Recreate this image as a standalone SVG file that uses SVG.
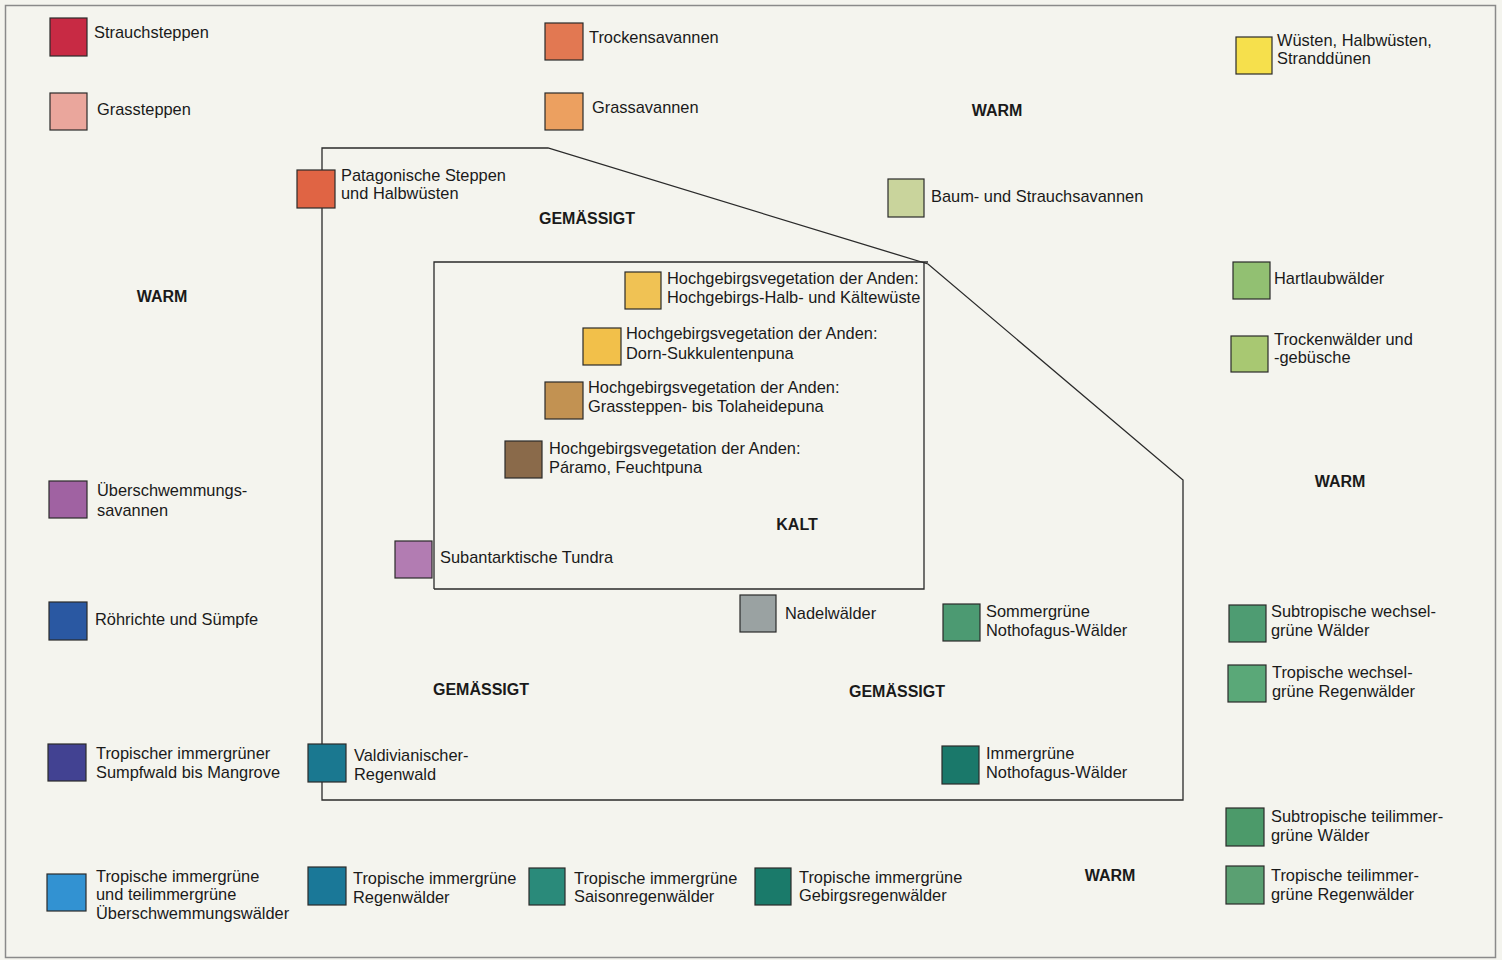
<svg xmlns="http://www.w3.org/2000/svg" width="1502" height="960" viewBox="0 0 1502 960">
<style>
.t{font-family:"Liberation Sans",Arial,sans-serif;font-size:16.4px;fill:#1a1a1a}
.b{font-family:"Liberation Sans",Arial,sans-serif;font-size:16px;font-weight:bold;fill:#1a1a1a;text-anchor:middle}
.sq{stroke:#2a2a2a;stroke-width:1.2}
.ln{fill:none;stroke:#2a2a2a;stroke-width:1.3}
</style>
<rect x="0" y="0" width="1502" height="960" fill="#f4f4ee"/>
<rect x="5.5" y="5.5" width="1490" height="952" fill="none" stroke="#8a8a8a" stroke-width="1.5"/>
<g id="boundaries">
<polygon class="ln" points="322,148 548,148 928,264 1183,480 1183,800 322,800"/>
<polyline class="ln" points="434,589 434,262 928,262"/>
<polyline class="ln" points="924,262 924,589 434,589"/>
</g>
<g id="zone-labels">
<text class="b" x="997" y="116">WARM</text>
<text class="b" x="587" y="224">GEMÄSSIGT</text>
<text class="b" x="162" y="302">WARM</text>
<text class="b" x="797" y="530">KALT</text>
<text class="b" x="1340" y="487">WARM</text>
<text class="b" x="481" y="695">GEMÄSSIGT</text>
<text class="b" x="897" y="697">GEMÄSSIGT</text>
<text class="b" x="1110" y="881">WARM</text>
</g>
<g id="n-strauchsteppen"><rect class="sq" x="50" y="18" width="37" height="38" fill="#c82a44"/><text class="t" x="94" y="38">Strauchsteppen</text></g>
<g id="n-grassteppen"><rect class="sq" x="50" y="93" width="37" height="37" fill="#eaa69c"/><text class="t" x="97" y="115">Grassteppen</text></g>
<g id="n-trockensavannen"><rect class="sq" x="545" y="23" width="38" height="37" fill="#e27852"/><text class="t" x="589" y="43">Trockensavannen</text></g>
<g id="n-grassavannen"><rect class="sq" x="545" y="93" width="38" height="37" fill="#eca060"/><text class="t" x="592" y="113">Grassavannen</text></g>
<g id="n-wuesten"><rect class="sq" x="1236" y="37" width="36" height="37" fill="#f6e04c"/><text class="t" x="1277" y="46">Wüsten, Halbwüsten,</text><text class="t" x="1277" y="64">Stranddünen</text></g>
<g id="n-patagonische"><rect class="sq" x="297" y="170" width="38" height="38" fill="#e06444"/><text class="t" x="341" y="181">Patagonische Steppen</text><text class="t" x="341" y="199">und Halbwüsten</text></g>
<g id="n-baumsavannen"><rect class="sq" x="888" y="179" width="36" height="38" fill="#c9d49c"/><text class="t" x="931" y="202">Baum- und Strauchsavannen</text></g>
<g id="n-hartlaub"><rect class="sq" x="1233" y="262" width="37" height="37" fill="#92c072"/><text class="t" x="1274" y="284">Hartlaubwälder</text></g>
<g id="n-trockenwaelder"><rect class="sq" x="1231" y="336" width="37" height="36" fill="#a8c872"/><text class="t" x="1274" y="345">Trockenwälder und</text><text class="t" x="1274" y="363">-gebüsche</text></g>
<g id="n-anden-kaeltewueste"><rect class="sq" x="625" y="272" width="36" height="37" fill="#f0c254"/><text class="t" x="667" y="284">Hochgebirgsvegetation der Anden:</text><text class="t" x="667" y="303">Hochgebirgs-Halb- und Kältewüste</text></g>
<g id="n-anden-dornpuna"><rect class="sq" x="583" y="328" width="38" height="37" fill="#f2c04a"/><text class="t" x="626" y="339">Hochgebirgsvegetation der Anden:</text><text class="t" x="626" y="359">Dorn-Sukkulentenpuna</text></g>
<g id="n-anden-tolaheide"><rect class="sq" x="545" y="382" width="38" height="37" fill="#c29252"/><text class="t" x="588" y="393">Hochgebirgsvegetation der Anden:</text><text class="t" x="588" y="412">Grassteppen- bis Tolaheidepuna</text></g>
<g id="n-anden-paramo"><rect class="sq" x="505" y="441" width="37" height="37" fill="#8a6a4a"/><text class="t" x="549" y="454">Hochgebirgsvegetation der Anden:</text><text class="t" x="549" y="473">Páramo, Feuchtpuna</text></g>
<g id="n-ueberschwemmungssavannen"><rect class="sq" x="49" y="481" width="38" height="37" fill="#a062a2"/><text class="t" x="97" y="496">Überschwemmungs-</text><text class="t" x="97" y="516">savannen</text></g>
<g id="n-tundra"><rect class="sq" x="395" y="541" width="37" height="37" fill="#b27cb2"/><text class="t" x="440" y="563">Subantarktische Tundra</text></g>
<g id="n-roehrichte"><rect class="sq" x="49" y="602" width="38" height="38" fill="#2a58a2"/><text class="t" x="95" y="625">Röhrichte und Sümpfe</text></g>
<g id="n-nadelwaelder"><rect class="sq" x="740" y="595" width="36" height="37" fill="#9aa2a2"/><text class="t" x="785" y="619">Nadelwälder</text></g>
<g id="n-sommergruen"><rect class="sq" x="943" y="604" width="37" height="37" fill="#4c9a72"/><text class="t" x="986" y="617">Sommergrüne</text><text class="t" x="986" y="636">Nothofagus-Wälder</text></g>
<g id="n-subtrop-wechsel"><rect class="sq" x="1229" y="605" width="37" height="37" fill="#4e9c72"/><text class="t" x="1271" y="617">Subtropische wechsel-</text><text class="t" x="1271" y="636">grüne Wälder</text></g>
<g id="n-trop-wechsel"><rect class="sq" x="1228" y="665" width="38" height="37" fill="#5aa878"/><text class="t" x="1272" y="678">Tropische wechsel-</text><text class="t" x="1272" y="697">grüne Regenwälder</text></g>
<g id="n-sumpfwald"><rect class="sq" x="48" y="744" width="38" height="37" fill="#424292"/><text class="t" x="96" y="759">Tropischer immergrüner</text><text class="t" x="96" y="778">Sumpfwald bis Mangrove</text></g>
<g id="n-valdivianisch"><rect class="sq" x="308" y="744" width="38" height="38" fill="#1a7890"/><text class="t" x="354" y="761">Valdivianischer-</text><text class="t" x="354" y="780">Regenwald</text></g>
<g id="n-immergruen-nothofagus"><rect class="sq" x="942" y="746" width="37" height="38" fill="#1a786a"/><text class="t" x="986" y="759">Immergrüne</text><text class="t" x="986" y="778">Nothofagus-Wälder</text></g>
<g id="n-subtrop-teilimmer"><rect class="sq" x="1226" y="808" width="38" height="38" fill="#4c9a6a"/><text class="t" x="1271" y="822">Subtropische teilimmer-</text><text class="t" x="1271" y="841">grüne Wälder</text></g>
<g id="n-ueberschwemmungswaelder"><rect class="sq" x="47" y="874" width="39" height="37" fill="#3292d2"/><text class="t" x="96" y="882">Tropische immergrüne</text><text class="t" x="96" y="900">und teilimmergrüne</text><text class="t" x="96" y="919">Überschwemmungswälder</text></g>
<g id="n-trop-regenwaelder"><rect class="sq" x="308" y="867" width="38" height="38" fill="#1a7898"/><text class="t" x="353" y="884">Tropische immergrüne</text><text class="t" x="353" y="903">Regenwälder</text></g>
<g id="n-saisonregenwaelder"><rect class="sq" x="529" y="868" width="36" height="37" fill="#2a8a7a"/><text class="t" x="574" y="884">Tropische immergrüne</text><text class="t" x="574" y="902">Saisonregenwälder</text></g>
<g id="n-gebirgsregenwaelder"><rect class="sq" x="755" y="868" width="36" height="37" fill="#1a7a6a"/><text class="t" x="799" y="883">Tropische immergrüne</text><text class="t" x="799" y="901">Gebirgsregenwälder</text></g>
<g id="n-trop-teilimmer"><rect class="sq" x="1226" y="866" width="38" height="38" fill="#5aa072"/><text class="t" x="1271" y="881">Tropische teilimmer-</text><text class="t" x="1271" y="900">grüne Regenwälder</text></g>
</svg>
